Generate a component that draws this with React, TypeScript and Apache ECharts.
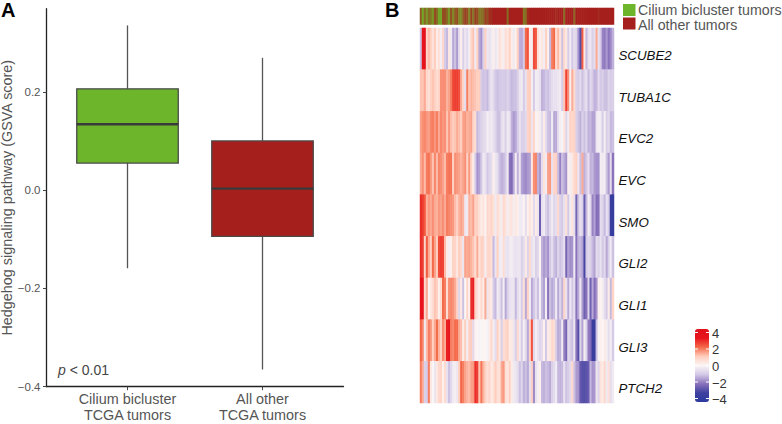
import React, { useEffect, useRef } from "react";
import * as echarts from "echarts";

const FONT = '"Liberation Sans", Arial, sans-serif';

// Panel A
const boxCategories = ["Cilium bicluster\nTCGA tumors", "All other\nTCGA tumors"];
const boxCiliumStats = [1, -0.159, 0.055, 0.134, 0.206, 0.335];
const boxOtherStats = [2, -0.365, -0.094, 0.003, 0.1, 0.269];
const boxColors = ["#6db52a", "#a51f1d"];
const yTicks = [-0.4, -0.2, 0, 0.2];

// Panel B
const genes = ["SCUBE2", "TUBA1C", "EVC2", "EVC", "SMO", "GLI2", "GLI1", "GLI3", "PTCH2"];
// Share of cilium bicluster tumors in each stripe of the annotation bar
const ciliumShare = [
  0.4, 0.9, 0.5, 0.8, 0.5, 0.6, 0.8, 0.3, 0.5, 0.9, 0.9, 0.3, 0.3, 0.5, 0.8, 0.3, 0.7, 0.4, 0.3, 0.7,
  0.7, 0.4, 0.2, 0.3, 0.7, 0.2, 0.6, 0.2, 0.3, 0.6, 0.55, 0.5, 0.2, 0.3, 0.1, 0.1, 0, 0, 0, 0,
  0, 0, 0, 0.5, 0, 0, 0, 0, 0, 0, 0, 0.6, 0.5, 0.1, 0, 0, 0, 0, 0, 0,
  0, 0, 0, 0, 0, 0, 0, 0.08, 0, 0, 0, 0.5, 0, 0, 0, 0, 0.45, 0, 0, 0,
  0, 0, 0, 0, 0, 0, 0, 0, 0.08, 0, 0, 0, 0, 0, 0, 0,
];

const scube2 = [
  -1.2, 3.5, 4, 0.9, 1.3, 1, 0.5, 1.1, 0.3, 0.6, -0.2, 0.8, -1, -1.3, 0.4, -0.3, -1.5, -1.2, -1.7, -0.6,
  0.2, -0.9, -0.4, -0.7, -0.2, 0.9, 1.2, -0.3, 1, -1.5, -1.8, -0.9, 1, -0.4, -0.5, -0.3, 0.2, -0.4, -0.2, 0.6,
  0.3, -0.2, 0.7, 0.4, 1, 0.3, -0.3, 0.2, 1, -1.4, -1.5, -1, 2.2, 2.5, 0.3, -0.2, 2.6, 2.4, 0.6, 0.2,
  0.4, -0.2, 1, 0.2, -1.3, 2, 2.2, 0.7, 1.3, 0.6, -1.2, 0.8, 0.4, -1, -0.3, -1.1, -0.6, -0.8, -1.8, -3,
  2.4, 0.4, -1.3, -0.5, -0.4, -0.9, -0.6, 1.5, -0.5, -1, -2, -2.1, -1.7, -2.2, -1.9, -1.4,
];
const tuba1c = [
  1.2, 1.2, 1.5, 0.8, 0.6, 1, 1.2, 1, 0.7, 0.9, 1.8, 1.8, 1.8, 1.4, 1.6, 2, 2.7, 2.8, 2.8, 2.6,
  1.5, 0.9, -0.6, 2, 1.2, 1.4, 1.3, 1.2, 1, 1.1, -1, -1.2, -1.1, -1.3, -0.8, -0.4, -0.7, -1.1, -1.2, -1.1,
  -1, -1, -1.1, -0.8, -1.1, -1.3, -1.2, -1.2, -0.9, -0.4, -0.3, -1, -0.5, 1, 1.1, -0.2, -1, -0.2, -0.3, -0.5,
  -1.4, -1.3, -1.1, -1.2, -0.9, -0.6, -0.5, -0.5, -0.4, -0.3, -1, 1.2, 2.8, 1.8, -0.2, 1.5, 0.8, -0.9, -1, -0.7,
  -1.2, -0.8, -0.5, -1.3, -0.7, -1, -1.4, -1.3, -0.7, -1.1, -0.9, -1.2, -1.2, -0.8, -1, -0.9,
];
const evc2 = [
  1.6, 1.8, 1.9, 1.7, 1.6, 1.9, 2, 1.7, 2, 1.5, 1.9, 1.7, 1.8, 1.2, 1.7, 1.3, 1.1, 1.2, 1.5, 1.3,
  1, 1.6, 1.7, 1.4, 1.5, 1.6, 0.9, 0.7, -1.3, -1.1, -0.9, -0.7, -0.6, -0.2, -0.4, -0.3, -0.5, -0.8, -1.2, -1.2,
  -0.6, -0.4, -0.9, -0.3, -0.5, -1.4, -1.7, -1.5, -1, -0.5, -0.9, -0.9, -0.7, 0.9, 1.1, -0.4, 0.9, -0.1, 0.2, -0.2,
  -0.6, 0.3, -0.7, -1.2, -1.3, -0.3, -1.5, -1.5, -0.6, -0.2, -0.1, 0.5, -0.8, -0.3, 1, 0.8, 1, -0.9, -1.2, -1.4,
  -0.9, -1.2, -0.8, -1.4, -1.3, -1.6, -1.6, -0.4, -0.2, -0.3, -1, -0.2, -0.9, -0.7, -1.3, -1.2,
];
const evc = [
  1.5, 1.8, 1.3, 2, 2.1, 1.7, 1.2, 1.9, 1.3, 1.9, 1.8, 1.6, 1.3, 2, 2.1, 2.1, 1, 1.8, 1.7, 1.6,
  1.4, 1.6, 1.8, 1, 1.7, 0.9, 0.3, -1, -1.8, -1.6, -1.1, -0.3, -0.5, -1.1, -0.8, -0.6, 0.2, -0.4, -0.6, -1.2,
  -1.4, -1.3, -1, -0.3, -2.2, -2.4, -1.5, -0.2, -1.4, -0.4, -1.6, -1.8, -1.9, -1.7, -1.6, 0.4, 1.8, 1.9, -1.4, -1.7,
  -0.6, 0.5, -0.3, 1.6, 1.7, -0.5, 0.9, 1, -1.3, -2, -1.2, -1.5, -1.8, 0.2, -0.2, 0.4, 0.8, 1, -0.4, -1.2,
  1.5, -1.4, -1.1, -0.5, -1.4, -1.3, -1.7, -1.8, -1.8, -0.2, -0.3, -0.2, -1.2, -1.7, -0.6, -2.2,
];
const smo = [
  3, 2.8, 2.4, 1.4, 1.7, 1.5, 1.8, 1.5, 1.4, 1.7, 1.6, 1.8, 1.5, 2, 1.9, 1.8, 1.7, 1.3, 1, 1.4,
  1.6, 1.4, -0.4, -0.3, 1.4, 1.3, 1.6, 1, 1, 0.6, 0.3, 0.5, 0.1, 0.8, 0.7, 0.9, 0.6, -0.3, 0.7, 0.4,
  -0.2, 0.8, 0.5, -0.2, 0.4, 0.5, -0.2, 0.4, 0.2, -0.3, -0.3, 0.1, -0.6, 0.2, 0.5, 0.2, -0.7, 0.3, -0.4, -2.6,
  -0.5, -0.3, -0.9, -1.2, -0.7, -0.3, -0.8, -0.6, 0.8, -0.9, -1.1, -0.5, 0.6, -1.1, -0.3, 0.5, -0.6, -2.5, -1.2, -0.5,
  -0.9, -2.7, -1.3, -0.2, -0.7, -2, -1.6, -2.3, -2.2, -0.6, -0.8, -1.3, -0.5, -1, -3.6, -3.8,
];
const gli2 = [
  3, 2.8, 0.9, 2.4, 1.5, 1, 2.2, 1.6, 1, 2.6, 2.8, 2.7, 1.3, 0.3, -0.2, 0.2, 1, 0.9, 0.4, 1.1,
  0.8, -0.4, 1.6, 1.5, 1.6, 1.4, 1.2, 0.7, 1.5, 0.6, 1, 0.9, -0.2, 0.8, 0.9, 0.6, -1.3, -0.4, 1, -0.3,
  -0.2, 0.7, -0.4, -0.5, -0.3, -0.2, -0.4, -0.5, -0.4, -0.4, -0.9, -0.6, 0.3, -0.8, 0.8, -0.5, -0.3, -0.9, -0.7, 0.1,
  -1.4, -1.7, -1.5, -1.8, -1.1, -0.6, -1.2, -1.4, -0.8, -1.2, -1, -0.6, -2.5, -1.6, -1.9, -1.8, -0.3, -2.2, -1.4, -1.3,
  -1.6, -3.2, -1.1, -0.7, -0.9, -1.3, -1.6, -0.6, -0.9, -0.5, -1.1, -0.7, -1.5, -0.9, -0.3, -1.2,
];
const gli1 = [
  3.5, 3.5, 0.8, 1.5, 0, 0.4, 0.7, 1.2, 1, 0.2, 0.7, 2.2, 2, 0.7, 1.8, 1.9, 1.8, 1.5, 1, -0.8,
  0.4, -1.2, 0, 0.9, 0.2, 3, 3.2, 1, 0.6, 0.2, 0.8, 0.3, 1.5, -0.4, 0.5, 0.3, -1, -1.3, -0.3, -0.5,
  -1.2, -0.2, -1.5, -0.9, -0.5, -0.4, -0.4, -1.3, -0.6, -0.3, -1, 0.6, -1.5, 1, -0.2, -1.5, -1.1, -0.6, -1.2, -0.2,
  -1.3, -1.6, -0.2, -2.2, -1.2, -1.5, -1.3, -0.3, -1.5, -0.8, -1.4, 0.9, -0.5, -1.5, -0.4, -1.1, -0.6, -2.2, -1.5, -0.4,
  -1.7, -2.6, -2.2, -0.8, -2.6, -1.5, -2.3, -1.8, 0.2, 0.1, -0.2, -0.6, -1, 0.3, -1.3, 0.9,
];
const gli3 = [
  2.3, 1.9, -0.3, 1.3, 2, 1.7, 1, 1.5, 2.2, 1.4, 1, 1.8, 1.5, 3.2, 3.4, 2, 1.9, 2.2, 2.2, 1.5,
  1.3, 0.3, 1.1, -0.2, 1, 1.1, -0.7, 0.2, 0, -0.1, 0, 0.1, 0, -0.1, 0.3, 0.8, -0.2, -0.6, 1, 0.4,
  -0.9, 0.7, 0.8, 1, 0.3, 0.4, -0.4, -0.9, 0.8, -0.3, -1, -0.2, -0.7, -1.5, 1, 2.5, -0.7, -0.2, -0.5, -0.8,
  -0.6, 0.2, -1.1, 0.3, 0.4, 0.8, 0.7, -1, -1.5, -1.4, -0.3, -2, -2.5, -0.7, -1, -1.2, -0.4, -2.2, -3, -0.8,
  -1.6, -0.2, -0.9, -2.1, -2.3, -3.6, -3.7, -1.2, -0.1, 0.2, 0, 0.3, -0.2, -0.6, -0.2, -1,
];
const ptch2 = [
  2, 1.5, -0.9, -1, 2, 0.4, 0, -0.4, 0.4, 0.8, 0.9, 0.2, 0.7, -0.5, -1.2, -0.7, -0.3, -0.2, -0.4, 1.1,
  2.3, 2, 1.6, 1.4, 1.3, 1.6, 1.7, 3, 2.8, 1.2, 2.1, 1.4, 1, 0.6, 0.9, 0.3, 0.6, 1.1, 0.6, 0.5,
  1.5, 1.7, 0.6, 0.4, 1, 0.3, -0.3, -0.4, -0.6, -1.2, -0.8, -1.4, -1.2, -1.5, -0.6, 1, -1.9, -0.5, -0.2, 0.2,
  -1.3, -1.4, -1.2, -1.3, -1.5, -0.9, -0.7, -0.3, -1.3, -1.4, -1.3, -0.5, -1.2, -1, -0.7, 0.8, -1.2, -1.7, -1.8, -2.8,
  -3, -3, -2.9, -2.7, -1.3, -1.8, -1.7, -0.4, -0.8, 0.5, 0.3, 0.8, -0.3, 0.6, -0.6, -0.3,
];
const heatRows = [scube2, tuba1c, evc2, evc, smo, gli2, gli1, gli3, ptch2];
const heatColors = ["#2c3a9e", "#3e409f", "#8a72bc", "#d3c8e6", "#fbf6f6", "#ffcdbd", "#f46a4a", "#e8151c", "#e0101a"];
const scaleTicks = [4, 2, 0, -2, -4];
const groupNames = ["Cilium bicluster tumors", "All other tumors"];

const COLOR_LEGEND_TOP = 329;
const COLOR_LEGEND_H = 73;
const COLOR_RANGE = 4.42;

export default function App() {
  const ref = useRef<HTMLDivElement>(null);
  useEffect(() => {
    const chart = echarts.init(ref.current!, undefined, { renderer: "svg" });
    const columns = scube2.map((_, i) => String(i));
    const heatData: number[][] = [];
    heatRows.forEach((row, r) => row.forEach((v, c) => heatData.push([c, r, v])));
    const annotationData = ciliumShare.map((v, i) => [i, 0, v]);
    const scaleY = (v: number) => COLOR_LEGEND_TOP + ((COLOR_RANGE - v) / (2 * COLOR_RANGE)) * COLOR_LEGEND_H;

    chart.setOption({
      animation: false,
      backgroundColor: "#fff",
      textStyle: { fontFamily: FONT },
      grid: [
        { left: 46.5, top: 8.7, width: 297, height: 378, outerBoundsMode: "none" },
        { left: 420, top: 28, width: 194, height: 375, outerBoundsMode: "none" },
        { left: 420, top: 8, width: 194, height: 16.5, outerBoundsMode: "none" },
      ],
      xAxis: [
        {
          type: "value",
          gridIndex: 0,
          min: 0.4,
          max: 2.6,
          splitLine: { show: false },
          axisLine: { onZero: false, lineStyle: { color: "#222", width: 1.3 } },
          axisTick: { customValues: [1, 2], length: 3.5, lineStyle: { color: "#444" } },
          axisLabel: {
            customValues: [1, 2],
            formatter: (v: number) => boxCategories[v - 1],
            color: "#555",
            fontSize: 14.4,
            lineHeight: 16,
            margin: 4.5,
            fontFamily: FONT,
          },
        },
        { type: "category", gridIndex: 1, data: columns, show: false },
        { type: "category", gridIndex: 2, data: columns, show: false },
      ],
      yAxis: [
        {
          type: "value",
          gridIndex: 0,
          min: -0.4,
          max: 0.369,
          name: "Hedgehog signaling pathway (GSVA score)",
          nameLocation: "middle",
          nameGap: 32,
          nameTextStyle: { color: "#555", fontSize: 14.4, fontFamily: FONT },
          splitLine: { show: false },
          axisLine: { show: true, onZero: false, lineStyle: { color: "#222", width: 1.3 } },
          axisTick: { show: true, customValues: yTicks, length: 3.5, lineStyle: { color: "#444" } },
          axisLabel: {
            customValues: yTicks,
            formatter: (v: number) => (v < 0 ? "\u2212" + Math.abs(v).toFixed(1) : v.toFixed(1)),
            color: "#555",
            fontSize: 11.5,
            margin: 6,
            fontFamily: FONT,
          },
        },
        {
          type: "category",
          gridIndex: 1,
          data: genes,
          inverse: true,
          position: "right",
          axisLine: { show: false },
          axisTick: { show: false },
          axisLabel: {
            color: "#111",
            fontStyle: "italic",
            fontSize: 13.3,
            margin: 4.5,
            verticalAlign: "top",
            fontFamily: FONT,
          },
        },
        { type: "category", gridIndex: 2, data: ["annotation"], show: false },
      ],
      visualMap: [
        {
          type: "continuous",
          seriesIndex: 1,
          min: -COLOR_RANGE,
          max: COLOR_RANGE,
          show: true,
          left: 695,
          top: COLOR_LEGEND_TOP,
          itemWidth: 14,
          itemHeight: COLOR_LEGEND_H,
          padding: 0,
          calculable: false,
          inRange: { color: heatColors },
        },
        {
          type: "continuous",
          seriesIndex: 2,
          min: 0,
          max: 1,
          show: false,
          inRange: { color: [boxColors[1], boxColors[0]] },
        },
      ],
      series: [
        {
          type: "custom",
          xAxisIndex: 0,
          yAxisIndex: 0,
          clip: false,
          encode: { x: 0, y: [1, 2, 3, 4, 5] },
          data: [boxCiliumStats, boxOtherStats],
          renderItem: (params: any, api: any) => {
            const x = api.value(0);
            const lo = api.coord([x, api.value(1)]);
            const q1 = api.coord([x, api.value(2)]);
            const med = api.coord([x, api.value(3)]);
            const q3 = api.coord([x, api.value(4)]);
            const hi = api.coord([x, api.value(5)]);
            const l = api.coord([x - 0.376, 0])[0];
            const r = api.coord([x + 0.376, 0])[0];
            const whisker = { stroke: "#555", lineWidth: 1.3 };
            return {
              type: "group",
              children: [
                { type: "line", shape: { x1: lo[0], y1: lo[1], x2: lo[0], y2: q1[1] }, style: whisker },
                { type: "line", shape: { x1: hi[0], y1: hi[1], x2: hi[0], y2: q3[1] }, style: whisker },
                {
                  type: "rect",
                  shape: { x: l, y: q3[1], width: r - l, height: q1[1] - q3[1] },
                  style: { fill: boxColors[params.dataIndex], stroke: "#4a4a4a", lineWidth: 1.3 },
                },
                { type: "line", shape: { x1: l, y1: med[1], x2: r, y2: med[1] }, style: { stroke: "#3a3a3a", lineWidth: 2.4 } },
              ],
            };
          },
        },
        {
          type: "heatmap",
          name: "expression",
          xAxisIndex: 1,
          yAxisIndex: 1,
          data: heatData,
          progressive: 0,
        },
        {
          type: "heatmap",
          name: "tumor group",
          xAxisIndex: 2,
          yAxisIndex: 2,
          data: annotationData,
          progressive: 0,
        },
      ],
      graphic: [
        { type: "text", left: 1, top: 0, style: { text: "A", font: `bold 20px ${FONT}`, fill: "#000" } },
        { type: "text", left: 385, top: 0, style: { text: "B", font: `bold 20px ${FONT}`, fill: "#000" } },
        {
          type: "text",
          left: 58,
          top: 363,
          style: {
            text: "{i|p} < 0.01",
            font: `14px ${FONT}`,
            fill: "#444",
            rich: { i: { fontStyle: "italic", fontSize: 14, fill: "#444", fontFamily: FONT } },
          },
        },
        ...groupNames.flatMap((name, i) => [
          { type: "rect", left: 623, top: 4 + i * 13.5, shape: { width: 12.5, height: 12 }, style: { fill: boxColors[i] } },
          { type: "text", left: 638, top: 2.5 + i * 15, style: { text: name, font: `14.2px ${FONT}`, fill: "#555" } },
        ]),
        ...scaleTicks.map((t) => ({
          type: "text",
          left: 712,
          top: scaleY(t) - 5.5,
          z: 10,
          style: { text: t < 0 ? "\u2212" + Math.abs(t) : String(t), font: `13px ${FONT}`, fill: "#333" },
        })),
        ...scaleTicks.flatMap((t) => [
          { type: "line", z: 10, shape: { x1: 695, y1: scaleY(t), x2: 698, y2: scaleY(t) }, style: { stroke: "#fff", lineWidth: 1 } },
          { type: "line", z: 10, shape: { x1: 706, y1: scaleY(t), x2: 709, y2: scaleY(t) }, style: { stroke: "#fff", lineWidth: 1 } },
        ]),
      ],
    });
    return () => chart.dispose();
  }, []);
  return <div ref={ref} style={{ position: "fixed", left: 0, top: 0, width: 782, height: 424 }} />;
}
